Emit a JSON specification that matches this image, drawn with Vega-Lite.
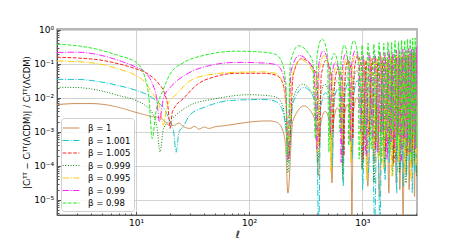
{
"$schema":"https://vega.github.io/schema/vega-lite/v6.json",
"width":360,"height":186,
"autosize":{"type":"none"},
"padding":{"left":57,"top":29,"right":46,"bottom":28},
"background":"white",
"data":{"values":[
{"b":"1","l":2,"v":0.00631},{"b":"1","l":3,"v":0.00676},{"b":"1","l":4,"v":0.00676},{"b":"1","l":5,"v":0.00646},{"b":"1","l":7,"v":0.00525},{"b":"1","l":10,"v":0.00372},{"b":"1","l":13,"v":0.00295},{"b":"1","l":17,"v":0.0024},{"b":"1","l":20,"v":0.00151},{"b":"1","l":22,"v":0.00158},{"b":"1","l":24,"v":0.00182},{"b":"1","l":26,"v":0.00145},{"b":"1","l":30,"v":0.00126},{"b":"1","l":33,"v":0.00145},{"b":"1","l":36,"v":0.0012},{"b":"1","l":40,"v":0.00138},{"b":"1","l":44,"v":0.00126},{"b":"1","l":50,"v":0.00141},{"b":"1","l":60,"v":0.00151},{"b":"1","l":80,"v":0.00174},{"b":"1","l":110,"v":0.002},{"b":"1","l":150,"v":0.00209},{"b":"1","l":175,"v":0.00191},{"b":"1","l":195,"v":0.00126},{"b":"1","l":210,"v":0.000398},{"b":"1","l":220,"v":1.58e-5},{"b":"1","l":243,"v":0.00204},{"b":"1","l":306,"v":0.00575},{"b":"1","l":387,"v":0.00204},{"b":"1","l":410,"v":5.01e-5},{"b":"1","l":426,"v":0.00141},{"b":"1","l":469,"v":0.00398},{"b":"1","l":524,"v":0.00141},{"b":"1","l":540,"v":3.16e-5},{"b":"1","l":556,"v":0.00178},{"b":"1","l":601,"v":0.00501},{"b":"1","l":659,"v":0.00178},{"b":"1","l":675,"v":1e-4},{"b":"1","l":691,"v":0.00224},{"b":"1","l":736,"v":0.00631},{"b":"1","l":794,"v":0.00224},{"b":"1","l":810,"v":1.58e-6},{"b":"1","l":833,"v":0.00355},{"b":"1","l":896,"v":0.01},{"b":"1","l":977,"v":0.00355},{"b":"1","l":1000,"v":7.94e-5},{"b":"1","l":1060,"v":0.0112},{"b":"1","l":1120,"v":2.51e-5},{"b":"1","l":1200,"v":0.0141},{"b":"1","l":1280,"v":1.26e-4},{"b":"1","l":1350,"v":0.0158},{"b":"1","l":1420,"v":1.26e-5},{"b":"1","l":1500,"v":0.0178},{"b":"1","l":1580,"v":6.31e-5},{"b":"1","l":1650,"v":0.02},{"b":"1","l":1720,"v":1.58e-5},{"b":"1","l":1795,"v":0.0224},{"b":"1","l":1870,"v":1e-4},{"b":"1","l":1935,"v":0.0251},{"b":"1","l":2000,"v":3.16e-5},{"b":"1","l":2075,"v":0.0251},{"b":"1","l":2150,"v":2e-5},{"b":"1","l":2225,"v":0.0282},{"b":"1","l":2300,"v":1.58e-6},{"b":"1","l":2375,"v":0.0316},{"b":"1","l":2450,"v":6.31e-5},{"b":"1","l":2525,"v":0.0316},{"b":"1","l":2600,"v":2e-5},{"b":"1","l":2675,"v":0.0355},{"b":"1","l":2750,"v":1e-4},{"b":"1","l":2825,"v":0.0355},{"b":"1","l":2900,"v":1.26e-5},{"b":"1","l":2975,"v":0.0398},{"b":"1","l":3050,"v":5.01e-5},{"b":"1","l":3110,"v":0.0316},
{"b":"1.001","l":2,"v":0.0347},{"b":"1.001","l":3,"v":0.0347},{"b":"1.001","l":5,"v":0.0288},{"b":"1.001","l":7,"v":0.0229},{"b":"1.001","l":10,"v":0.0166},{"b":"1.001","l":12,"v":0.0132},{"b":"1.001","l":15,"v":0.00832},{"b":"1.001","l":18,"v":0.00427},{"b":"1.001","l":20,"v":0.002},{"b":"1.001","l":21.5,"v":0.001},{"b":"1.001","l":22.6,"v":0.000251},{"b":"1.001","l":24,"v":0.001},{"b":"1.001","l":26,"v":0.00141},{"b":"1.001","l":30,"v":0.00316},{"b":"1.001","l":41,"v":0.00537},{"b":"1.001","l":68,"v":0.00832},{"b":"1.001","l":135,"v":0.00891},{"b":"1.001","l":170,"v":0.00794},{"b":"1.001","l":190,"v":0.00562},{"b":"1.001","l":205,"v":0.00251},{"b":"1.001","l":214,"v":0.000794},{"b":"1.001","l":221,"v":1.26e-4},{"b":"1.001","l":244,"v":0.00708},{"b":"1.001","l":307,"v":0.02},{"b":"1.001","l":390,"v":0.00708},{"b":"1.001","l":413,"v":1.58e-6},{"b":"1.001","l":429,"v":0.00501},{"b":"1.001","l":472,"v":0.0141},{"b":"1.001","l":528,"v":0.00501},{"b":"1.001","l":544,"v":1e-4},{"b":"1.001","l":560,"v":0.00631},{"b":"1.001","l":605,"v":0.0178},{"b":"1.001","l":664,"v":0.00631},{"b":"1.001","l":680,"v":2.51e-5},{"b":"1.001","l":696,"v":0.00891},{"b":"1.001","l":741,"v":0.0251},{"b":"1.001","l":800,"v":0.00891},{"b":"1.001","l":816,"v":1.58e-4},{"b":"1.001","l":839,"v":0.0112},{"b":"1.001","l":902,"v":0.0316},{"b":"1.001","l":985,"v":0.0112},{"b":"1.001","l":1008,"v":2e-5},{"b":"1.001","l":1068,"v":0.0398},{"b":"1.001","l":1129,"v":6.31e-5},{"b":"1.001","l":1209,"v":0.0501},{"b":"1.001","l":1290,"v":1.58e-6},{"b":"1.001","l":1360,"v":0.0562},{"b":"1.001","l":1431,"v":1.58e-6},{"b":"1.001","l":1512,"v":0.0631},{"b":"1.001","l":1593,"v":3.98e-5},{"b":"1.001","l":1663,"v":0.0708},{"b":"1.001","l":1734,"v":1.26e-4},{"b":"1.001","l":1809,"v":0.0794},{"b":"1.001","l":1885,"v":2e-4},{"b":"1.001","l":1950,"v":0.0794},{"b":"1.001","l":2016,"v":1.58e-5},{"b":"1.001","l":2091,"v":0.0891},{"b":"1.001","l":2167,"v":7.94e-5},{"b":"1.001","l":2242,"v":0.1},{"b":"1.001","l":2318,"v":2.51e-5},{"b":"1.001","l":2394,"v":0.1},{"b":"1.001","l":2470,"v":5.01e-5},{"b":"1.001","l":2545,"v":0.112},{"b":"1.001","l":2621,"v":1.26e-4},{"b":"1.001","l":2696,"v":0.112},{"b":"1.001","l":2772,"v":1.58e-5},{"b":"1.001","l":2847,"v":0.126},{"b":"1.001","l":2923,"v":6.31e-5},{"b":"1.001","l":2998,"v":0.126},{"b":"1.001","l":3074,"v":2.51e-5},
{"b":"1.005","l":2,"v":0.155},{"b":"1.005","l":3,"v":0.148},{"b":"1.005","l":5,"v":0.126},{"b":"1.005","l":7,"v":0.1},{"b":"1.005","l":10,"v":0.0708},{"b":"1.005","l":12,"v":0.0562},{"b":"1.005","l":14,"v":0.0398},{"b":"1.005","l":16,"v":0.0251},{"b":"1.005","l":18,"v":0.0126},{"b":"1.005","l":19.2,"v":0.00501},{"b":"1.005","l":20,"v":0.00126},{"b":"1.005","l":21,"v":0.00398},{"b":"1.005","l":26.6,"v":0.01},{"b":"1.005","l":35,"v":0.0251},{"b":"1.005","l":50,"v":0.0417},{"b":"1.005","l":78,"v":0.0525},{"b":"1.005","l":135,"v":0.0525},{"b":"1.005","l":170,"v":0.0468},{"b":"1.005","l":190,"v":0.0355},{"b":"1.005","l":205,"v":0.0158},{"b":"1.005","l":214,"v":0.00398},{"b":"1.005","l":222,"v":1.58e-4},{"b":"1.005","l":246,"v":0.0501},{"b":"1.005","l":291,"v":0.141},{"b":"1.005","l":394,"v":0.0501},{"b":"1.005","l":418,"v":3.98e-4},{"b":"1.005","l":434,"v":0.0447},{"b":"1.005","l":478,"v":0.126},{"b":"1.005","l":535,"v":0.0447},{"b":"1.005","l":551,"v":0.001},{"b":"1.005","l":568,"v":0.0251},{"b":"1.005","l":613,"v":0.0708},{"b":"1.005","l":672,"v":0.0251},{"b":"1.005","l":689,"v":2e-4},{"b":"1.005","l":705,"v":0.0447},{"b":"1.005","l":751,"v":0.126},{"b":"1.005","l":810,"v":0.0447},{"b":"1.005","l":826,"v":6.31e-4},{"b":"1.005","l":849,"v":0.0603},{"b":"1.005","l":913,"v":0.17},{"b":"1.005","l":997,"v":0.0603},{"b":"1.005","l":1020,"v":1.58e-4},{"b":"1.005","l":1081,"v":0.126},{"b":"1.005","l":1142,"v":7.94e-4},{"b":"1.005","l":1224,"v":0.141},{"b":"1.005","l":1306,"v":3.16e-4},{"b":"1.005","l":1377,"v":0.135},{"b":"1.005","l":1448,"v":0.001},{"b":"1.005","l":1530,"v":0.148},{"b":"1.005","l":1612,"v":2.51e-4},{"b":"1.005","l":1683,"v":0.141},{"b":"1.005","l":1754,"v":5.01e-4},{"b":"1.005","l":1830,"v":0.158},{"b":"1.005","l":1907,"v":1.26e-4},{"b":"1.005","l":1973,"v":0.148},{"b":"1.005","l":2040,"v":7.94e-4},{"b":"1.005","l":2116,"v":0.17},{"b":"1.005","l":2193,"v":3.98e-4},{"b":"1.005","l":2270,"v":0.158},{"b":"1.005","l":2346,"v":6.31e-4},{"b":"1.005","l":2422,"v":0.178},{"b":"1.005","l":2499,"v":2e-4},{"b":"1.005","l":2575,"v":0.17},{"b":"1.005","l":2652,"v":0.001},{"b":"1.005","l":2728,"v":0.191},{"b":"1.005","l":2805,"v":3.16e-4},{"b":"1.005","l":2881,"v":0.186},{"b":"1.005","l":2958,"v":5.01e-4},{"b":"1.005","l":3034,"v":0.2},{"b":"1.005","l":3111,"v":2.51e-4},
{"b":"0.999","l":2,"v":0.0204},{"b":"0.999","l":3,"v":0.02},{"b":"0.999","l":5,"v":0.0158},{"b":"0.999","l":7,"v":0.0117},{"b":"0.999","l":10,"v":0.00832},{"b":"0.999","l":12,"v":0.00603},{"b":"0.999","l":14,"v":0.00347},{"b":"0.999","l":15.3,"v":0.00141},{"b":"0.999","l":16.3,"v":0.000257},{"b":"0.999","l":17.5,"v":0.00126},{"b":"0.999","l":21.6,"v":0.00275},{"b":"0.999","l":30,"v":0.00603},{"b":"0.999","l":50,"v":0.00933},{"b":"0.999","l":100,"v":0.0123},{"b":"0.999","l":140,"v":0.0117},{"b":"0.999","l":170,"v":0.0107},{"b":"0.999","l":190,"v":0.00794},{"b":"0.999","l":205,"v":0.00316},{"b":"0.999","l":213,"v":0.001},{"b":"0.999","l":220,"v":6.31e-5},{"b":"0.999","l":243,"v":0.00891},{"b":"0.999","l":295,"v":0.0251},{"b":"0.999","l":385,"v":0.00891},{"b":"0.999","l":408,"v":1.26e-4},{"b":"0.999","l":423,"v":0.00891},{"b":"0.999","l":466,"v":0.0251},{"b":"0.999","l":522,"v":0.00891},{"b":"0.999","l":537,"v":3.98e-4},{"b":"0.999","l":553,"v":0.0112},{"b":"0.999","l":598,"v":0.0316},{"b":"0.999","l":656,"v":0.0112},{"b":"0.999","l":672,"v":3.98e-5},{"b":"0.999","l":688,"v":0.0158},{"b":"0.999","l":732,"v":0.0447},{"b":"0.999","l":790,"v":0.0158},{"b":"0.999","l":806,"v":2.51e-4},{"b":"0.999","l":829,"v":0.0224},{"b":"0.999","l":891,"v":0.0631},{"b":"0.999","l":972,"v":0.0224},{"b":"0.999","l":995,"v":7.94e-5},{"b":"0.999","l":1054,"v":0.0794},{"b":"0.999","l":1114,"v":3.16e-4},{"b":"0.999","l":1194,"v":0.1},{"b":"0.999","l":1274,"v":3.16e-5},{"b":"0.999","l":1343,"v":0.112},{"b":"0.999","l":1413,"v":2e-4},{"b":"0.999","l":1492,"v":0.126},{"b":"0.999","l":1572,"v":1e-4},{"b":"0.999","l":1641,"v":0.126},{"b":"0.999","l":1711,"v":3.98e-4},{"b":"0.999","l":1786,"v":0.141},{"b":"0.999","l":1861,"v":5.01e-5},{"b":"0.999","l":1925,"v":0.141},{"b":"0.999","l":1990,"v":1.58e-4},{"b":"0.999","l":2064,"v":0.158},{"b":"0.999","l":2139,"v":6.31e-5},{"b":"0.999","l":2214,"v":0.158},{"b":"0.999","l":2289,"v":3.16e-4},{"b":"0.999","l":2363,"v":0.178},{"b":"0.999","l":2438,"v":3.16e-5},{"b":"0.999","l":2512,"v":0.178},{"b":"0.999","l":2587,"v":2.51e-4},{"b":"0.999","l":2661,"v":0.2},{"b":"0.999","l":2736,"v":1e-4},{"b":"0.999","l":2811,"v":0.191},{"b":"0.999","l":2886,"v":1.26e-4},{"b":"0.999","l":2960,"v":0.209},{"b":"0.999","l":3035,"v":5.01e-5},{"b":"0.999","l":3110,"v":0.209},
{"b":"0.995","l":2,"v":0.12},{"b":"0.995","l":3,"v":0.115},{"b":"0.995","l":5,"v":0.0955},{"b":"0.995","l":7,"v":0.0708},{"b":"0.995","l":10,"v":0.0447},{"b":"0.995","l":12,"v":0.0288},{"b":"0.995","l":14,"v":0.0132},{"b":"0.995","l":16,"v":0.00631},{"b":"0.995","l":17.4,"v":0.00158},{"b":"0.995","l":19,"v":0.00631},{"b":"0.995","l":23,"v":0.0132},{"b":"0.995","l":30,"v":0.0316},{"b":"0.995","l":45,"v":0.0479},{"b":"0.995","l":78,"v":0.0562},{"b":"0.995","l":135,"v":0.0575},{"b":"0.995","l":170,"v":0.0525},{"b":"0.995","l":190,"v":0.038},{"b":"0.995","l":205,"v":0.0158},{"b":"0.995","l":213,"v":0.00398},{"b":"0.995","l":220,"v":2e-4},{"b":"0.995","l":242,"v":0.0468},{"b":"0.995","l":284,"v":0.132},{"b":"0.995","l":380,"v":0.0468},{"b":"0.995","l":402,"v":2.51e-4},{"b":"0.995","l":417,"v":0.0617},{"b":"0.995","l":459,"v":0.174},{"b":"0.995","l":514,"v":0.0617},{"b":"0.995","l":529,"v":6.31e-5},{"b":"0.995","l":545,"v":0.0282},{"b":"0.995","l":589,"v":0.0794},{"b":"0.995","l":646,"v":0.0282},{"b":"0.995","l":662,"v":5.01e-4},{"b":"0.995","l":678,"v":0.0501},{"b":"0.995","l":721,"v":0.141},{"b":"0.995","l":778,"v":0.0501},{"b":"0.995","l":794,"v":1.26e-4},{"b":"0.995","l":816,"v":0.0676},{"b":"0.995","l":878,"v":0.191},{"b":"0.995","l":958,"v":0.0676},{"b":"0.995","l":980,"v":3.98e-4},{"b":"0.995","l":1039,"v":0.141},{"b":"0.995","l":1098,"v":3.98e-5},{"b":"0.995","l":1176,"v":0.158},{"b":"0.995","l":1254,"v":3.16e-4},{"b":"0.995","l":1323,"v":0.151},{"b":"0.995","l":1392,"v":1.58e-4},{"b":"0.995","l":1470,"v":0.166},{"b":"0.995","l":1548,"v":7.94e-5},{"b":"0.995","l":1617,"v":0.158},{"b":"0.995","l":1686,"v":5.01e-4},{"b":"0.995","l":1760,"v":0.178},{"b":"0.995","l":1833,"v":5.01e-5},{"b":"0.995","l":1897,"v":0.166},{"b":"0.995","l":1960,"v":2.51e-4},{"b":"0.995","l":2034,"v":0.191},{"b":"0.995","l":2107,"v":1.26e-4},{"b":"0.995","l":2180,"v":0.178},{"b":"0.995","l":2254,"v":3.98e-4},{"b":"0.995","l":2328,"v":0.2},{"b":"0.995","l":2401,"v":6.31e-5},{"b":"0.995","l":2475,"v":0.191},{"b":"0.995","l":2548,"v":2e-4},{"b":"0.995","l":2622,"v":0.214},{"b":"0.995","l":2695,"v":3.98e-5},{"b":"0.995","l":2768,"v":0.209},{"b":"0.995","l":2842,"v":3.16e-4},{"b":"0.995","l":2916,"v":0.224},{"b":"0.995","l":2989,"v":1e-4},{"b":"0.995","l":3062,"v":0.229},
{"b":"0.99","l":2,"v":0.214},{"b":"0.99","l":3,"v":0.219},{"b":"0.99","l":5,"v":0.174},{"b":"0.99","l":7,"v":0.126},{"b":"0.99","l":10,"v":0.0794},{"b":"0.99","l":12,"v":0.0562},{"b":"0.99","l":14,"v":0.0251},{"b":"0.99","l":15.2,"v":0.01},{"b":"0.99","l":16.1,"v":0.002},{"b":"0.99","l":17.5,"v":0.01},{"b":"0.99","l":20,"v":0.02},{"b":"0.99","l":23,"v":0.0316},{"b":"0.99","l":30,"v":0.0562},{"b":"0.99","l":45,"v":0.0891},{"b":"0.99","l":78,"v":0.11},{"b":"0.99","l":135,"v":0.105},{"b":"0.99","l":170,"v":0.0955},{"b":"0.99","l":190,"v":0.0708},{"b":"0.99","l":205,"v":0.0316},{"b":"0.99","l":213,"v":0.00794},{"b":"0.99","l":219,"v":1.58e-4},{"b":"0.99","l":235,"v":0.0617},{"b":"0.99","l":277,"v":0.174},{"b":"0.99","l":375,"v":0.0617},{"b":"0.99","l":396,"v":3.16e-4},{"b":"0.99","l":411,"v":0.0851},{"b":"0.99","l":452,"v":0.24},{"b":"0.99","l":506,"v":0.0851},{"b":"0.99","l":521,"v":7.94e-4},{"b":"0.99","l":537,"v":0.0398},{"b":"0.99","l":580,"v":0.112},{"b":"0.99","l":635,"v":0.0398},{"b":"0.99","l":651,"v":1.26e-4},{"b":"0.99","l":667,"v":0.0676},{"b":"0.99","l":710,"v":0.191},{"b":"0.99","l":766,"v":0.0676},{"b":"0.99","l":782,"v":5.01e-4},{"b":"0.99","l":804,"v":0.0851},{"b":"0.99","l":864,"v":0.24},{"b":"0.99","l":943,"v":0.0851},{"b":"0.99","l":965,"v":0.001},{"b":"0.99","l":1023,"v":0.178},{"b":"0.99","l":1081,"v":2e-4},{"b":"0.99","l":1158,"v":0.209},{"b":"0.99","l":1235,"v":6.31e-4},{"b":"0.99","l":1302,"v":0.191},{"b":"0.99","l":1370,"v":2.51e-4},{"b":"0.99","l":1447,"v":0.219},{"b":"0.99","l":1525,"v":0.001},{"b":"0.99","l":1592,"v":0.209},{"b":"0.99","l":1660,"v":1.58e-4},{"b":"0.99","l":1732,"v":0.24},{"b":"0.99","l":1805,"v":5.01e-4},{"b":"0.99","l":1867,"v":0.219},{"b":"0.99","l":1930,"v":3.16e-4},{"b":"0.99","l":2002,"v":0.251},{"b":"0.99","l":2075,"v":7.94e-4},{"b":"0.99","l":2147,"v":0.24},{"b":"0.99","l":2220,"v":1.26e-4},{"b":"0.99","l":2292,"v":0.269},{"b":"0.99","l":2364,"v":6.31e-4},{"b":"0.99","l":2436,"v":0.251},{"b":"0.99","l":2509,"v":3.98e-4},{"b":"0.99","l":2581,"v":0.282},{"b":"0.99","l":2654,"v":2.51e-4},{"b":"0.99","l":2726,"v":0.275},{"b":"0.99","l":2799,"v":0.001},{"b":"0.99","l":2871,"v":0.302},{"b":"0.99","l":2943,"v":3.16e-4},{"b":"0.99","l":3015,"v":0.316},{"b":"0.99","l":3088,"v":5.01e-4},
{"b":"0.98","l":2,"v":0.372},{"b":"0.98","l":3,"v":0.339},{"b":"0.98","l":5,"v":0.245},{"b":"0.98","l":7,"v":0.174},{"b":"0.98","l":10,"v":0.11},{"b":"0.98","l":12,"v":0.0398},{"b":"0.98","l":13,"v":0.01},{"b":"0.98","l":13.9,"v":6.31e-4},{"b":"0.98","l":15,"v":0.00398},{"b":"0.98","l":17.3,"v":0.0166},{"b":"0.98","l":20,"v":0.0501},{"b":"0.98","l":26.6,"v":0.11},{"b":"0.98","l":39,"v":0.174},{"b":"0.98","l":78,"v":0.234},{"b":"0.98","l":135,"v":0.219},{"b":"0.98","l":170,"v":0.191},{"b":"0.98","l":190,"v":0.132},{"b":"0.98","l":205,"v":0.0562},{"b":"0.98","l":213,"v":0.0158},{"b":"0.98","l":218,"v":2e-4},{"b":"0.98","l":232,"v":0.112},{"b":"0.98","l":273,"v":0.339},{"b":"0.98","l":365,"v":0.12},{"b":"0.98","l":385,"v":6.31e-4},{"b":"0.98","l":400,"v":0.191},{"b":"0.98","l":440,"v":0.537},{"b":"0.98","l":493,"v":0.191},{"b":"0.98","l":508,"v":2.51e-4},{"b":"0.98","l":523,"v":0.0708},{"b":"0.98","l":565,"v":0.2},{"b":"0.98","l":620,"v":0.0708},{"b":"0.98","l":635,"v":0.001},{"b":"0.98","l":650,"v":0.126},{"b":"0.98","l":692,"v":0.355},{"b":"0.98","l":746,"v":0.126},{"b":"0.98","l":761,"v":3.98e-4},{"b":"0.98","l":782,"v":0.17},{"b":"0.98","l":842,"v":0.479},{"b":"0.98","l":919,"v":0.17},{"b":"0.98","l":940,"v":1.58e-4},{"b":"0.98","l":997,"v":0.355},{"b":"0.98","l":1053,"v":7.94e-4},{"b":"0.98","l":1128,"v":0.398},{"b":"0.98","l":1203,"v":3.16e-4},{"b":"0.98","l":1269,"v":0.38},{"b":"0.98","l":1335,"v":5.01e-4},{"b":"0.98","l":1410,"v":0.417},{"b":"0.98","l":1485,"v":1.26e-4},{"b":"0.98","l":1551,"v":0.398},{"b":"0.98","l":1617,"v":6.31e-4},{"b":"0.98","l":1688,"v":0.447},{"b":"0.98","l":1758,"v":2.51e-4},{"b":"0.98","l":1819,"v":0.417},{"b":"0.98","l":1880,"v":0.001},{"b":"0.98","l":1950,"v":0.479},{"b":"0.98","l":2021,"v":3.98e-4},{"b":"0.98","l":2092,"v":0.447},{"b":"0.98","l":2162,"v":2e-4},{"b":"0.98","l":2232,"v":0.501},{"b":"0.98","l":2303,"v":7.94e-4},{"b":"0.98","l":2374,"v":0.479},{"b":"0.98","l":2444,"v":3.16e-4},{"b":"0.98","l":2514,"v":0.537},{"b":"0.98","l":2585,"v":5.01e-4},{"b":"0.98","l":2656,"v":0.525},{"b":"0.98","l":2726,"v":1.58e-4},{"b":"0.98","l":2796,"v":0.562},{"b":"0.98","l":2867,"v":6.31e-4},{"b":"0.98","l":2938,"v":0.575},{"b":"0.98","l":3008,"v":3.98e-4},{"b":"0.98","l":3100,"v":0.501}
]},
"mark":{"type":"line","strokeWidth":1,"interpolate":"monotone","clip":true},
"encoding":{
"x":{"field":"l","type":"quantitative","scale":{"type":"log","domain":[2,3050],"nice":false},
"axis":{"title":"ℓ","titleFontStyle":"italic","titleFontSize":10,"titlePadding":2,
"values":[2,3,4,5,6,7,8,9,10,20,30,40,50,60,70,80,90,100,200,300,400,500,600,700,800,900,1000,2000,3000],
"labelExpr":"datum.value == 10 ? '10¹' : datum.value == 100 ? '10²' : datum.value == 1000 ? '10³' : ''",
"tickSize":{"condition":{"test":"indexof([10,100,1000], datum.value) >= 0","value":-3.5},"value":-2},
"gridOpacity":{"condition":{"test":"indexof([10,100,1000], datum.value) >= 0","value":1},"value":0},
"labelPadding":7,"labelFlush":false}},
"y":{"field":"v","type":"quantitative","scale":{"type":"log","domain":[3.6e-6,1.05],"nice":false},
"axis":{"title":"|Cₗᵀᵀ − Cₗᵀᵀ(ΛCDM)| / Cₗᵀᵀ(ΛCDM)","titleFontSize":8.5,"titlePadding":2,
"values":[4e-6,5e-6,6e-6,7e-6,8e-6,9e-6,1e-5,2e-5,3e-5,4e-5,5e-5,6e-5,7e-5,8e-5,9e-5,1e-4,2e-4,3e-4,4e-4,5e-4,6e-4,7e-4,8e-4,9e-4,0.001,0.002,0.003,0.004,0.005,0.006,0.007,0.008,0.009,0.01,0.02,0.03,0.04,0.05,0.06,0.07,0.08,0.09,0.1,0.2,0.3,0.4,0.5,0.6,0.7,0.8,0.9,1],
"labelExpr":"datum.value == 1 ? '10⁰' : datum.value == 0.1 ? '10⁻¹' : datum.value == 0.01 ? '10⁻²' : datum.value == 0.001 ? '10⁻³' : datum.value == 0.0001 ? '10⁻⁴' : datum.value == 0.00001 ? '10⁻⁵' : ''",
"tickSize":{"condition":{"test":"indexof([0.00001,0.0001,0.001,0.01,0.1,1], datum.value) >= 0","value":-3.5},"value":-2},
"gridOpacity":{"condition":{"test":"indexof([0.00001,0.0001,0.001,0.01,0.1,1], datum.value) >= 0","value":1},"value":0},
"labelPadding":7,"labelFlush":false}},
"color":{"field":"b","type":"nominal","sort":null,
"scale":{"domain":["1","1.001","1.005","0.999","0.995","0.99","0.98"],"range":["#cd8c50","#1cc6cc","#ff2222","#118a11","#ffcc00","#ff22ff","#22f022"]},
"legend":{"title":null,"labelExpr":"'β = ' + datum.label"}},
"strokeDash":{"field":"b","type":"nominal","sort":null,
"scale":{"domain":["1","1.001","1.005","0.999","0.995","0.99","0.98"],"range":[[1,0],[6.4,1.6,1,1.6],[3.7,1.6],[1,1.65],[6.4,1.6,1,1.6],[6.4,1.6,1,1.6],[3.7,1.6]]},
"legend":{"title":null,"labelExpr":"'β = ' + datum.label"}}
},
"config":{
"font":"DejaVu Sans",
"view":{"stroke":"#a0a0a0","strokeWidth":1.5},
"axis":{"labelFont":"DejaVu Sans","labelFontSize":9,"labelColor":"#000","titleFont":"DejaVu Sans","titleFontWeight":"normal","titleColor":"#000","domainColor":"#555","tickColor":"#555","gridColor":"#c8c8c8","gridWidth":0.8},
"legend":{"orient":"bottom-left","offset":4,"strokeColor":"#d0d0d0","fillColor":"rgba(255,255,255,0.85)","cornerRadius":3,"padding":3,"labelFont":"DejaVu Sans","labelFontSize":8.5,"labelColor":"#000","symbolType":"M-1.4,0H1.4","symbolSize":144,"symbolStrokeWidth":1.2,"rowPadding":0.5,"labelOffset":10}
}
}
